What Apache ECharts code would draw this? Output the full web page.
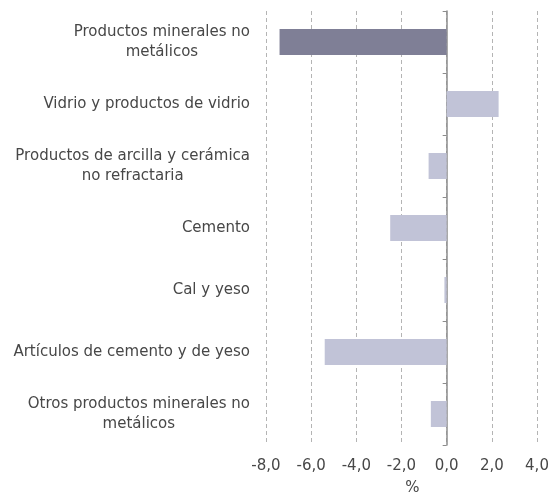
<!DOCTYPE html>
<html>
<head>
<meta charset="utf-8">
<script src="https://cdn.jsdelivr.net/npm/echarts@6/dist/echarts.min.js"></script>
<style>
  html, body { margin: 0; padding: 0; background: #fff; }
  #main { width: 548px; height: 497px; }
</style>
</head>
<body>
<div id="main"></div>
<script>
const categories = [
  'Productos minerales no\nmetálicos',
  'Vidrio y productos de vidrio',
  'Productos de arcilla y cerámica\nno refractaria',
  'Cemento',
  'Cal y yeso',
  'Artículos de cemento y de yeso',
  'Otros productos minerales no\nmetálicos'
]
const values = [-7.4, 2.3, -0.8, -2.5, -0.1, -5.4, -0.7]
const barColors = ['#7f7f96', '#c1c3d7', '#c1c3d7', '#c1c3d7', '#c1c3d7', '#c1c3d7', '#c1c3d7']

let chart = echarts.init(document.getElementById('main'))

const font = 'DejaVu Sans'
const txt = '#474747'
const option = {
  animation: false,
  grid: { left: 266, right: 11, top: 11, bottom: 52, containLabel: false, outerBoundsMode: 'none' },
  xAxis: {
    type: 'value',
    min: -8,
    max: 4,
    interval: 2,
    name: '%',
    nameLocation: 'middle',
    nameGap: 36,
    nameTextStyle: { fontFamily: font, fontSize: 15, color: txt, padding: [0, 0, 0, 22] },
    axisLine: { show: false },
    axisTick: { show: false },
    axisLabel: {
      fontFamily: font,
      fontSize: 15,
      color: txt,
      margin: 14,
      formatter: v => v.toFixed(1).replace('.', ',')
    },
    splitLine: { show: true, lineStyle: { color: '#b4b4b4', type: [4, 3], width: 1 } }
  },
  yAxis: {
    type: 'category',
    inverse: true,
    data: categories,
    axisLine: { show: true, onZero: true, lineStyle: { color: '#8c8c8c', width: 1.5 } },
    axisTick: { show: true, length: 4, lineStyle: { color: '#8c8c8c' } },
    axisLabel: {
      fontFamily: font,
      fontSize: 15,
      color: txt,
      margin: 16,
      lineHeight: 20,
      formatter: function (v) {
        return v.split('\n').map(s => '{a|' + s + '}').join('\n')
      },
      rich: { a: { align: 'center', fontFamily: font, fontSize: 15, color: txt, lineHeight: 20 } }
    }
  },
  series: [
    {
      type: 'bar',
      data: values.map((v, i) => ({ value: v, itemStyle: { color: barColors[i] } })),
      barWidth: '42%'
    }
  ]
}
chart.setOption(option)
</script>
</body>
</html>
